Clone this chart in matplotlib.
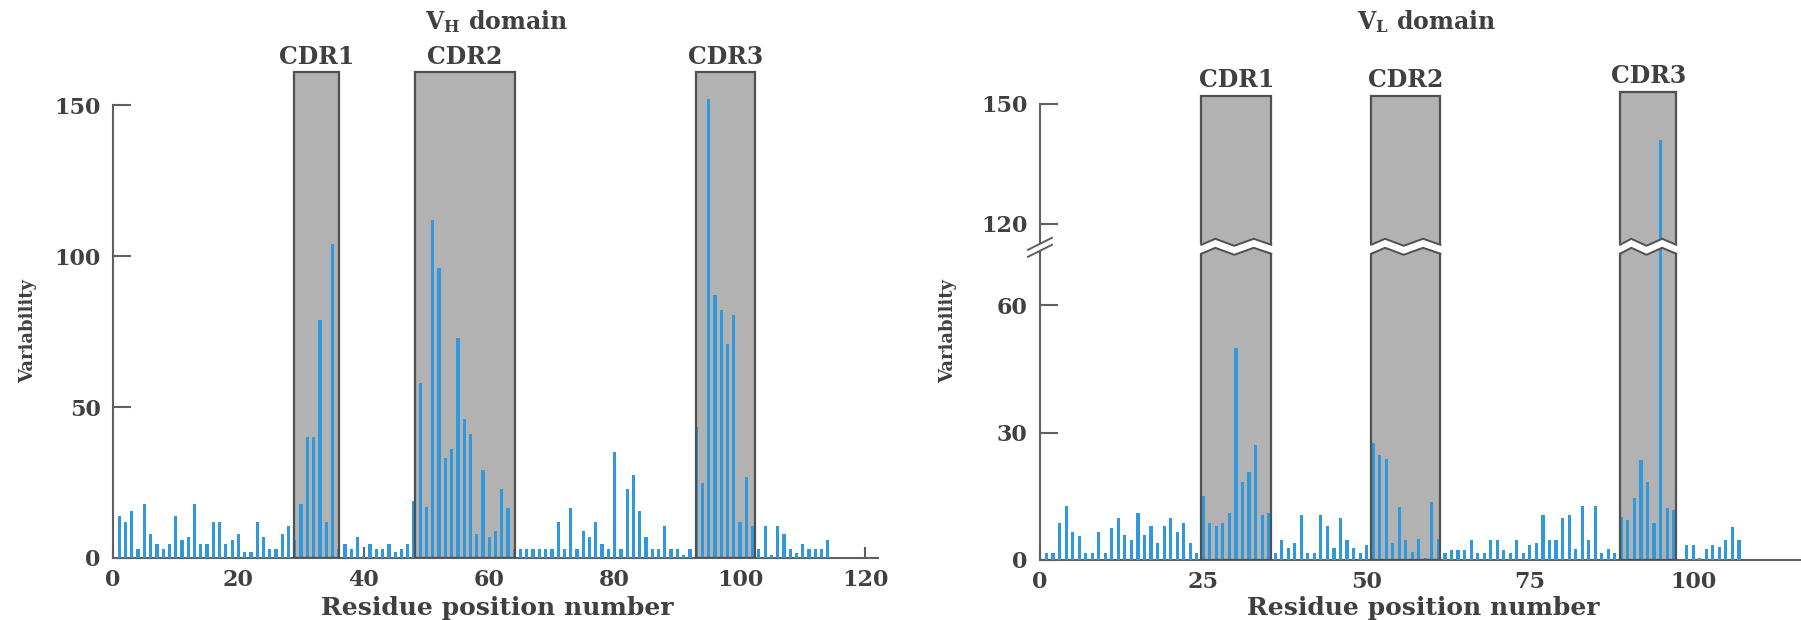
import numpy as np
import matplotlib.pyplot as plt
from matplotlib.patches import Rectangle
from matplotlib.transforms import blended_transform_factory

# variability per residue
vh_var = [14, 12, 15.5, 3, 18, 8, 4.5, 3, 4.5, 14,
          6, 7, 18, 4.5, 4.5, 12, 12, 4.5, 6, 8,
          2, 2, 12, 7, 3, 3, 8, 10.5, 6, 18,
          40, 40, 79, 12, 104, 3, 4.5, 3, 7, 0.5,
          4.5, 3, 3, 4.5, 2, 3, 4.5, 19, 58, 17,
          112, 96, 33, 36, 73, 46, 41, 8, 29, 7,
          9, 23, 16.5, 3, 3, 3, 3, 3, 3, 3,
          12, 3, 16.5, 3, 9, 7, 12, 4.5, 3, 35,
          3, 23, 27.5, 15.5, 7, 3, 3, 10.5, 3, 3,
          1, 3, 43.5, 25, 152, 87, 82, 71, 80.5, 12,
          27, 10.5, 3, 10.5, 1, 10.5, 8, 3, 1.5, 4.5,
          3, 3, 3, 6]
vl_var = [1.6, 1.6, 8.7, 12.7, 6.7, 5.6, 1.6, 1.6, 6.7, 1.6,
          7.5, 9.9, 6, 4.8, 11, 6, 8, 4, 8, 9.9,
          6.7, 8.7, 4, 1.6, 15, 8.7, 8, 8.7, 11, 50,
          18.3, 20.6, 27, 10.7, 11, 1.6, 4.8, 2.8, 4, 10.7,
          1.6, 1.6, 10.7, 8, 2.8, 9.9, 4.8, 2.8, 1.6, 3.6,
          27.5, 24.7, 23.7, 3.9, 12.5, 4.7, 2, 4.9, 0.5, 13.7,
          4.9, 1.6, 2.4, 2.4, 2.4, 4.7, 1.6, 1.6, 4.7, 4.7,
          2.4, 1.6, 4.7, 1.6, 3.5, 3.9, 10.6, 4.7, 4.7, 9.8,
          10.6, 2.7, 12.7, 4.7, 12.7, 1.6, 2.7, 1.6, 10.2, 9.4,
          14.5, 23.5, 18.4, 8.6, 141, 12.2, 11.8, 0, 3.5, 3.5,
          0.5, 2.7, 3.5, 3.1, 4.7, 7.8, 4.7]
vh_pos = np.arange(1, len(vh_var) + 1)
vl_pos = np.arange(1, len(vl_var) + 1)

cdr_names = ["CDR1", "CDR2", "CDR3"]
vh_cdr = [(28.8, 36.1), (48.2, 64.1), (93.0, 102.4)]
vl_cdr = [(24.7, 35.4), (50.7, 61.3), (88.8, 97.4)]
vh_top = [161, 161, 161]
vl_top = [152, 152, 153]

vh_ticks_x = [0, 20, 40, 60, 80, 100, 120]
vh_ticks_y = [0, 50, 100, 150]
vl_ticks_x = [0, 25, 50, 75, 100]
vl_ticks_y = [0, 30, 60, 120, 150]

BLUE = "#3098dd"
GRAY = "#b2b2b2"
EDGE = "#505050"
AXC = "#606060"
TXT = "#404040"

plt.rcParams["font.family"] = ["DejaVu Serif"]
plt.rcParams["font.weight"] = "bold"
plt.rcParams["mathtext.fontset"] = "custom"
plt.rcParams["mathtext.rm"] = "DejaVu Serif:bold"
plt.rcParams["mathtext.default"] = "rm"

W, H = 1801, 620
fig = plt.figure(figsize=(W / 100, H / 100), dpi=100)

# broken y scale for the VL panel
L, U, EPS, S2 = 73.6, 114.2, 0.001, 0.941


def fwd(y):
    y = np.asarray(y, float)
    return np.where(y <= L, y, np.where(y >= U, L + EPS * (U - L) + (y - U) * S2,
                                        L + (y - L) * EPS))


def inv(z):
    z = np.asarray(z, float)
    c = L + EPS * (U - L)
    return np.where(z <= L, z, np.where(z >= c, U + (z - c) / S2, L + (z - L) / EPS))


def style(ax, xt, yt, xmax):
    for s in ("top", "right"):
        ax.spines[s].set_visible(False)
    for s in ("left", "bottom"):
        ax.spines[s].set_color(AXC)
        ax.spines[s].set_linewidth(1.5)
    ax.spines["left"].set_bounds(0, 150)
    ax.spines["bottom"].set_bounds(0, xmax)
    ax.set_xticks(xt)
    ax.set_yticks(yt)
    ax.minorticks_off()
    ax.tick_params(axis="y", direction="in", length=13, width=1.5, color=AXC,
                   pad=9, labelsize=16, labelcolor=TXT)
    ax.tick_params(axis="x", direction="in", length=8, width=1.5, color=AXC,
                   pad=8, labelsize=16, labelcolor=TXT)
    ax.patch.set_alpha(0)


def boxes(ax, spans, tops, off):
    for (a, b), top, name in zip(spans, tops, cdr_names):
        ax.add_patch(Rectangle((a, 0), b - a, top, facecolor=GRAY, edgecolor="none", zorder=1))
        ax.add_patch(Rectangle((a, 0), b - a, top, fill=False, edgecolor=EDGE, lw=1.6, zorder=4))
        ax.annotate(name, ((a + b) / 2, top), xytext=(0, off), textcoords="offset points",
                    ha="center", va="baseline", fontsize=17, color=TXT, annotation_clip=False)


# ---- VH panel
axL = fig.add_axes([113 / W, 62 / H, 765 / W, 489 / H])
axL.set_xlim(0, 122)
axL.set_ylim(0, 162)
boxes(axL, vh_cdr, vh_top, 6)
axL.bar(vh_pos, vh_var, width=0.52, color=BLUE, zorder=3)
style(axL, vh_ticks_x, vh_ticks_y, 122)

# ---- VL panel
axR = fig.add_axes([1040 / W, 60 / H, 761 / W, 476 / H])
axR.set_yscale("function", functions=(fwd, inv))
axR.set_xlim(0, 116.5)
axR.set_ylim(0, 155)
boxes(axR, vl_cdr, vl_top, 6.5)
axR.bar(vl_pos, vl_var, width=0.48, color=BLUE, zorder=3)
style(axR, vl_ticks_x, vl_ticks_y, 116.5)

# break marks
hpx, wpx = 476.0, 761.0
yc = float(fwd(L) / fwd(155))
tr = blended_transform_factory(axR.transData, axR.transAxes)
t = np.array([0, 0.2, 0.47, 0.75, 1.0])
zz = np.array([-2, 4, -3, 4, -2.0])
for a, b in vl_cdr:
    xs = a + t * (b - a)
    xw = xs.copy()
    xw[0] -= 0.4
    xw[-1] += 0.4
    axR.plot(xw, yc + zz / hpx, color="white", lw=6, transform=tr, zorder=5,
             solid_joinstyle="round", clip_on=False)
    for s in (4.5, -4.5):
        axR.plot(xs, yc + (zz + s) / hpx, color=EDGE, lw=1.4, transform=tr, zorder=6,
                 clip_on=False)

sx = np.array([-12, 12]) / wpx
sy = np.array([-6, 6]) / hpx
axR.plot(sx, yc + sy, color="white", lw=4, transform=axR.transAxes, clip_on=False, zorder=7)
for off in (-3.5, 3.5):
    axR.plot(sx, yc + sy + off / hpx, color=AXC, lw=1.4, transform=axR.transAxes,
             clip_on=False, zorder=8)

# texts
fig.text(497 / W, 1 - 29 / H, r"V$_{H}$ domain", ha="center", va="baseline",
         fontsize=17, color=TXT)
fig.text(1427 / W, 1 - 29 / H, r"V$_{L}$ domain", ha="center", va="baseline",
         fontsize=17, color=TXT)
for xc in (497, 1423):
    fig.text(xc / W, 1 - 615 / H, "Residue position number", ha="center", va="baseline",
             fontsize=18, color=TXT)
for xc in (28, 948):
    fig.text(xc / W, 1 - 331 / H, "Variability", ha="center", va="center", rotation=90,
             fontsize=13, color=TXT)

fig.savefig("out.png", dpi=100)
